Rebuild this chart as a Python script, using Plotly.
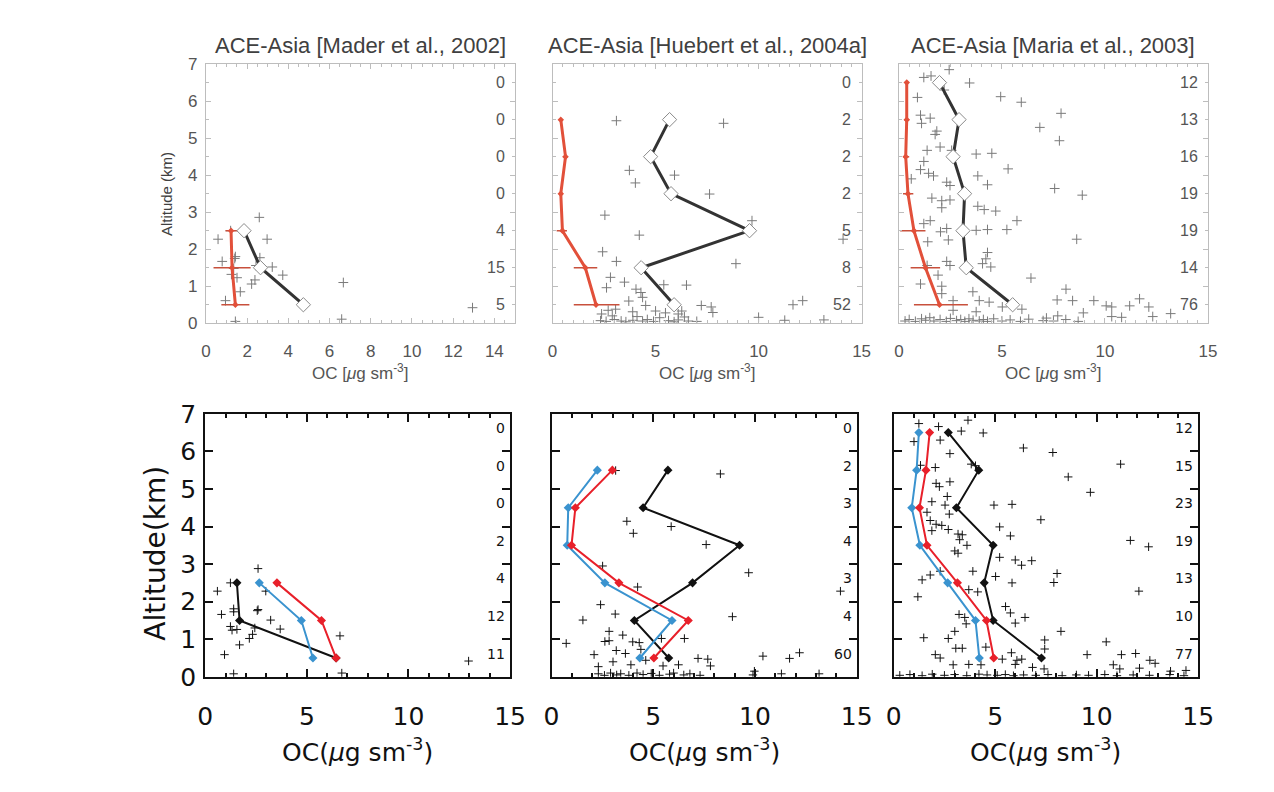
import plotly.graph_objects as go

W, H = 1274, 792

# ---------------- DATA ----------------
alt = [0.5, 1.5, 2.5, 3.5, 4.5, 5.5, 6.5]

titles = ["ACE-Asia [Mader et al., 2002]",
          "ACE-Asia [Huebert et al., 2004a]",
          "ACE-Asia [Maria et al., 2003]"]

# ---- top row (observations vs model with error bars) ----
# Mader
tl_obs_x = [0.59, 0.79, 1.43, 1.24, 1.35, 1.51, 1.67, 0.95, 1.43, 2.59, 2.97, 2.62, 2.43, 3.22,
            3.73, 2.22, 2.38, 6.67, 6.59, 12.94, 1.2, 1.4]
tl_obs_y = [2.27, 1.67, 1.80, 1.32, 1.48, 1.23, 0.85, 0.61, 0.05, 2.86, 2.27, 1.77, 1.56, 1.52,
            1.30, 1.06, 1.17, 1.10, 0.11, 0.42, 2.5, 1.75]
tl_alt = [0.5, 1.5, 2.5]
tl_obs_mean = [4.73, 2.65, 1.85]
tl_mod = [1.43, 1.27, 1.22]
tl_mod_lo = [0.75, 0.37, 0.95]
tl_mod_hi = [2.11, 2.17, 1.59]
tl_counts = ["5", "15", "4", "0", "0", "0", "0"]

# Huebert
tm_obs_x = [3.1, 8.3, 3.73, 4.02, 5.92, 7.62, 2.54, 9.68, 4.21, 14.1, 2.43, 3.1, 8.9, 2.81, 2.62,
            3.49, 4.05, 4.29, 4.37, 5.4, 6.5, 3.06, 3.89, 4.52, 5.0, 5.48, 6.1, 6.27, 7.22, 7.7,
            7.78, 11.67, 12.14, 10.0, 11.27, 13.17, 2.38, 2.7, 2.33, 2.6, 3.0, 3.33, 3.56, 3.9,
            4.37, 4.6, 4.9, 5.63, 5.9, 6.1, 6.59, 7.0, 2.9, 4.1, 5.2, 6.4, 3.7]
tm_obs_y = [5.47, 5.4, 4.13, 3.79, 4.0, 3.49, 2.92, 2.77, 2.38, 2.27, 1.93, 1.67, 1.61, 1.24, 0.96,
            1.11, 0.92, 0.83, 0.7, 1.04, 1.03, 0.38, 0.31, 0.48, 0.33, 0.28, 0.25, 0.33, 0.48, 0.44,
            0.29, 0.5, 0.61, 0.16, 0.08, 0.09, 0.25, 0.35, 0.07, 0.05, 0.1, 0.06, 0.04, 0.08,
            0.06, 0.1, 0.05, 0.07, 0.04, 0.09, 0.06, 0.05, 0.2, 0.18, 0.15, 0.17, 0.6]
tm_alt = [0.5, 1.5, 2.5, 3.5, 4.5, 5.5]
tm_obs_mean = [5.9, 4.3, 9.56, 5.75, 4.76, 5.68]
tm_mod = [2.11, 1.59, 0.48, 0.4, 0.63, 0.4]
tm_mod_lo = [1.03, 1.03, 0.2, 0.3, 0.5, 0.3]
tm_mod_hi = [3.25, 2.17, 0.7, 0.5, 0.75, 0.5]
tm_counts = ["52", "8", "5", "2", "2", "2", "0"]

# Maria
tr_obs_x = [2.44, 1.21, 1.56, 3.43, 4.94, 5.94, 7.87, 6.84, 7.79, 1.05, 1.52, 1.84, 1.76, 1.37,
            2.0, 2.56, 3.75, 4.51, 5.3, 1.21, 1.05, 1.44, 1.68, 2.32, 2.48, 3.83, 4.3, 7.56, 8.9,
            1.6, 2.08, 2.48, 3.83, 4.14, 4.7, 2.08, 1.52, 1.21, 2.32, 2.02, 3.75, 4.3, 5.24, 5.73,
            8.63, 2.4, 4.3, 4.22, 4.06, 4.46, 2.32, 2.48, 1.37, 6.41, 1.05, 2.08, 2.08, 3.59, 8.11,
            2.63, 3.9, 4.38, 2.63, 3.75, 5.02, 5.97, 7.68, 8.43, 9.46, 11.68, 10.06, 10.33, 11.2,
            12.13, 8.95, 10.33, 10.81, 12.32, 13.19, 7.71, 7.16, 0.9, 1.1, 0.6, 1.4, 1.9, 2.2,
            0.3, 0.5, 0.8, 1.1, 1.3, 1.5, 1.7, 2.0, 2.3, 2.5, 2.8, 3.0, 3.2, 3.4, 3.6, 3.9, 4.1,
            4.3, 4.6, 5.0, 5.4, 5.9, 6.3, 7.0, 7.5, 8.1, 8.7]
tr_obs_y = [6.85, 6.64, 6.68, 6.49, 6.12, 5.97, 5.67, 5.29, 4.93, 5.62, 5.54, 5.19, 5.10, 4.67,
            4.76, 4.67, 4.57, 4.59, 4.17, 4.37, 4.15, 4.05, 3.98, 3.81, 3.72, 3.98, 3.74, 3.64, 3.46,
            3.38, 3.31, 3.33, 3.16, 3.07, 3.03, 3.12, 2.77, 2.69, 2.56, 2.47, 2.51, 2.53, 2.53, 2.77,
            2.27, 2.25, 1.91, 1.74, 1.61, 1.52, 1.67, 1.56, 1.56, 1.22, 1.06, 1.0, 0.8, 0.85, 0.92,
            0.61, 0.61, 0.57, 0.35, 0.31, 0.44, 0.38, 0.63, 0.61, 0.61, 0.66, 0.47, 0.44, 0.47,
            0.44, 0.28, 0.18, 0.16, 0.18, 0.26, 0.2, 0.14, 6.1, 5.4, 3.9, 2.2, 1.3, 6.3,
            0.06, 0.1, 0.05, 0.12, 0.08, 0.15, 0.06, 0.1, 0.05, 0.13, 0.07, 0.1, 0.05, 0.12, 0.08,
            0.06, 0.1, 0.05, 0.12, 0.06, 0.09, 0.05, 0.11, 0.07, 0.06, 0.1, 0.05]
tr_alt = alt
tr_obs_mean = [5.52, 3.27, 3.11, 3.19, 2.63, 2.92, 1.97]
tr_mod = [1.97, 1.29, 0.73, 0.44, 0.33, 0.38, 0.38]
tr_mod_lo = [0.73, 0.57, 0.06, 0.2, 0.2, 0.25, 0.3]
tr_mod_hi = [3.35, 2.0, 1.29, 0.7, 0.5, 0.5, 0.45]
tr_counts = ["76", "14", "19", "19", "16", "13", "12"]

# ---- bottom row (observations vs two model versions) ----
bl_obs_x = [1.24, 0.6, 0.8, 1.4, 1.4, 2.56, 2.6, 2.98, 2.6, 3.22, 3.69, 1.24, 1.32, 1.56, 2.17,
            2.33, 2.44, 1.69, 0.95, 1.4, 6.63, 6.72, 12.96]
bl_obs_y = [2.5, 2.28, 1.66, 1.81, 1.73, 1.76, 1.79, 2.28, 2.88, 1.51, 1.27, 1.34, 1.24, 1.26,
            1.02, 1.13, 1.3, 0.85, 0.59, 0.08, 1.09, 0.1, 0.42]
bl_alt = [0.5, 1.5, 2.5]
bl_obs_mean = [6.44, 1.69, 1.56]
bl_mod_red = [6.44, 5.72, 3.53]
bl_mod_blue = [5.3, 4.73, 2.66]
bl_counts = ["11", "12", "4", "2", "0", "0", "0"]

bm_obs_x = [3.15, 8.3, 3.7, 4.02, 5.88, 7.6, 2.51, 9.69, 4.23, 14.2, 2.41, 3.13, 1.54, 8.89, 0.72,
            2.83, 3.5, 2.62, 2.83, 3.99, 4.31, 5.4, 6.53, 3.18, 3.63, 4.39, 2.09, 3.02, 3.9, 4.63,
            5.48, 6.24, 7.2, 7.68, 7.81, 10.39, 11.7, 12.19, 2.3, 9.97, 11.3, 13.15,
            2.3, 2.6, 2.9, 3.2, 3.4, 3.8, 4.2, 4.5, 4.9, 5.3, 5.8, 6.0, 6.5, 6.8, 7.3, 9.9]
bm_obs_y = [5.49, 5.4, 4.14, 3.82, 4.0, 3.52, 2.95, 2.77, 2.39, 2.28, 1.92, 1.67, 1.51, 1.6, 0.89,
            1.21, 1.11, 0.94, 0.96, 0.93, 0.91, 1.02, 1.02, 0.7, 0.62, 0.73, 0.59, 0.4, 0.32, 0.44,
            0.29, 0.32, 0.49, 0.47, 0.29, 0.55, 0.49, 0.64, 0.27, 0.15, 0.08, 0.08,
            0.08, 0.04, 0.1, 0.05, 0.08, 0.04, 0.1, 0.06, 0.09, 0.04, 0.07, 0.1, 0.05, 0.08, 0.04, 0.05]
bm_alt = [0.5, 1.5, 2.5, 3.5, 4.5, 5.5]
bm_obs_mean = [5.76, 4.07, 6.93, 9.24, 4.5, 5.72]
bm_mod_red = [5.03, 6.72, 3.31, 0.98, 1.17, 2.99]
bm_mod_blue = [4.34, 5.92, 2.62, 0.77, 0.82, 2.25]
bm_counts = ["60", "4", "3", "4", "3", "2", "0"]

br_obs_x = [3.66, 1.24, 2.21, 3.33, 4.41, 2.29, 1.0, 6.39, 7.84, 2.77, 1.32, 2.05, 3.82, 4.03,
            11.18, 8.6, 2.09, 2.25, 2.77, 9.69, 2.64, 1.88, 2.53, 2.74, 1.64, 4.94, 5.83, 1.8, 7.25,
            2.09, 2.37, 2.69, 1.88, 3.17, 3.38, 3.25, 5.22, 5.75, 3.61, 11.66, 12.56, 3.01, 3.17,
            5.22, 5.99, 6.3, 6.8, 2.29, 1.8, 1.4, 3.9, 5.02, 8.05, 7.89, 5.83, 3.7, 12.08, 1.19,
            4.14, 5.51, 5.75, 3.22, 3.5, 3.57, 5.99, 6.47, 8.24, 3.01, 2.69, 1.48, 10.47, 7.44,
            3.06, 3.38, 4.54, 5.8, 7.44, 2.05, 2.29, 5.35, 6.31, 9.53, 11.22, 11.92, 12.62, 12.88,
            2.93, 3.7, 4.3, 5.99, 6.84, 7.41, 10.82, 11.14, 12.11, 13.64, 14.4, 6.07,
            0.3, 0.8, 1.4, 1.9, 2.5, 3.0, 3.6, 4.2, 4.6, 5.1, 5.5, 5.9, 6.4, 7.0, 7.6, 8.3,
            9.0, 9.6, 10.4, 11.0, 11.8, 12.6, 13.6, 14.3]
br_obs_y = [6.83, 6.74, 6.66, 6.54, 6.49, 6.3, 6.26, 6.09, 5.97, 5.94, 5.63, 5.57, 5.66, 5.62,
            5.66, 5.32, 5.15, 5.06, 5.19, 4.91, 4.8, 4.66, 4.57, 4.33, 4.38, 4.57, 4.59, 4.16, 4.18,
            4.06, 4.03, 3.92, 3.89, 3.8, 3.78, 3.65, 3.99, 3.75, 3.5, 3.63, 3.46, 3.35, 3.29,
            3.18, 3.11, 2.97, 3.09, 2.81, 2.71, 2.58, 2.81, 2.67, 2.75, 2.51, 2.5, 2.32, 2.28, 2.13,
            2.26, 1.87, 1.7, 1.66, 1.58, 1.41, 1.43, 1.58, 1.21, 1.21, 1.02, 1.04, 0.93, 0.98,
            0.76, 0.76, 0.79, 0.64, 0.74, 0.59, 0.5, 0.47, 0.47, 0.59, 0.59, 0.62, 0.44, 0.36,
            0.32, 0.33, 0.32, 0.33, 0.25, 0.21, 0.32, 0.21, 0.23, 0.15, 0.17, 0.44,
            0.04, 0.06, 0.03, 0.07, 0.04, 0.06, 0.03, 0.07, 0.05, 0.04, 0.06, 0.03, 0.05, 0.04, 0.06,
            0.03, 0.05, 0.04, 0.06, 0.03, 0.05, 0.04, 0.06, 0.03]
br_alt = alt
br_obs_mean = [7.28, 4.9, 4.46, 4.9, 3.09, 4.19, 2.69]
br_mod_red = [4.93, 4.57, 3.14, 1.64, 1.27, 1.59, 1.77]
br_mod_blue = [4.22, 4.03, 2.66, 1.29, 0.89, 1.13, 1.24]
br_counts = ["77", "10", "13", "19", "23", "15", "12"]

top_xticks = [[0, 2, 4, 6, 8, 10, 12, 14], [0, 5, 10, 15], [0, 5, 10, 15]]
bottom_xticks = [0, 5, 10, 15]
yticks = [0, 1, 2, 3, 4, 5, 6, 7]

# ---------------- LAYOUT (pixel boxes) ----------------
top_boxes = [(201.7, 516.7), (555, 870), (908, 1223)]
top_y = (52, 321)
bot_boxes = [(201, 511.7), (554, 865), (902.7, 1213)]
bot_y = (415, 688)

GRAY_TXT = "#555555"
TOP_RED = "#e2503a"
BOT_RED = "#e8202a"
BOT_BLUE = "#3a93cf"

fig = go.Figure()

top_sets = [
    (tl_obs_x, tl_obs_y, tl_alt, tl_obs_mean, tl_mod, tl_mod_lo, tl_mod_hi, tl_counts),
    (tm_obs_x, tm_obs_y, tm_alt, tm_obs_mean, tm_mod, tm_mod_lo, tm_mod_hi, tm_counts),
    (tr_obs_x, tr_obs_y, tr_alt, tr_obs_mean, tr_mod, tr_mod_lo, tr_mod_hi, tr_counts),
]
bot_sets = [
    (bl_obs_x, bl_obs_y, bl_alt, bl_obs_mean, bl_mod_red, bl_mod_blue, bl_counts),
    (bm_obs_x, bm_obs_y, bm_alt, bm_obs_mean, bm_mod_red, bm_mod_blue, bm_counts),
    (br_obs_x, br_obs_y, br_alt, br_obs_mean, br_mod_red, br_mod_blue, br_counts),
]

annotations = []


def axname(i):
    return "" if i == 1 else str(i)


for k, (ox, oy, a, om, md, lo, hi, cnt) in enumerate(top_sets):
    i = k + 1
    xa, ya = "x" + axname(i), "y" + axname(i)
    fig.add_trace(go.Scatter(x=ox, y=oy, mode="markers", xaxis=xa, yaxis=ya,
                             marker=dict(symbol="cross-thin", size=7,
                                         line=dict(color="#7a7a7a", width=1)),
                             showlegend=False, hoverinfo="skip"))
    fig.add_trace(go.Scatter(x=md, y=a, mode="lines+markers", xaxis=xa, yaxis=ya,
                             line=dict(color=TOP_RED, width=3),
                             marker=dict(symbol="diamond", size=5, color=TOP_RED),
                             error_x=dict(type="data", symmetric=False,
                                          array=[h - m for h, m in zip(hi, md)],
                                          arrayminus=[m - l for m, l in zip(md, lo)],
                                          color="#c8503c", thickness=1.5, width=0),
                             showlegend=False, hoverinfo="skip"))
    fig.add_trace(go.Scatter(x=om, y=a, mode="lines+markers", xaxis=xa, yaxis=ya,
                             line=dict(color="#333333", width=3),
                             marker=dict(symbol="diamond", size=11, color="white",
                                         line=dict(color="#8a8a8a", width=1)),
                             showlegend=False, hoverinfo="skip"))
    for c, yv in zip(cnt, alt):
        annotations.append(dict(x=14.6, y=yv, xref=xa, yref=ya, text=c, showarrow=False,
                                xanchor="right", yanchor="middle",
                                font=dict(family="Liberation Sans", size=16, color=GRAY_TXT)))
    x0, x1 = top_boxes[k]
    dom_x = [x0 / W, x1 / W]
    dom_y = [1 - top_y[1] / H, 1 - top_y[0] / H]
    axis_common = dict(showline=True, linecolor="#bdbdbd", linewidth=1, mirror="allticks",
                       ticks="inside", tickcolor="#bdbdbd", showgrid=False, zeroline=False,
                       tickfont=dict(family="Liberation Sans", size=17, color=GRAY_TXT))
    fig.layout["xaxis" + axname(i)] = dict(domain=dom_x, range=[0, 15], anchor=ya,
                                           tickvals=top_xticks[k], ticklen=5,
                                           ticklabelstandoff=12,
                                           minor=dict(dtick=0.5, ticks="inside", ticklen=3,
                                                      tickcolor="#bdbdbd"),
                                           **axis_common)
    fig.layout["yaxis" + axname(i)] = dict(domain=dom_y, range=[0, 7], anchor=xa,
                                           tickvals=yticks, ticklen=5,
                                           showticklabels=(k == 0), ticklabelstandoff=4,
                                           minor=dict(dtick=0.5, ticks="inside", ticklen=3,
                                                      tickcolor="#bdbdbd"),
                                           **axis_common)
    annotations.append(dict(x=(x0 + x1) / 2 / W, y=1 - 33 / H, xref="paper", yref="paper",
                            text=titles[k], showarrow=False, xanchor="center", yanchor="middle",
                            font=dict(family="Liberation Sans", size=22, color="#404040")))
    annotations.append(dict(x=(x0 + x1) / 2 / W, y=1 - 372 / H, xref="paper", yref="paper",
                            text="OC [<i>μ</i>g sm<sup>-3</sup>]", showarrow=False,
                            xanchor="center", yanchor="middle",
                            font=dict(family="Liberation Sans", size=17, color=GRAY_TXT)))

annotations.append(dict(x=161 / W, y=1 - 187 / H, xref="paper", yref="paper",
                        text="Altitude (km)", textangle=-90, showarrow=False,
                        xanchor="center", yanchor="middle",
                        font=dict(family="Liberation Sans", size=15, color="#404040")))

BFONT = "DejaVu Sans"
for k, (ox, oy, a, om, mr, mb, cnt) in enumerate(bot_sets):
    i = k + 4
    xa, ya = "x" + axname(i), "y" + axname(i)
    fig.add_trace(go.Scatter(x=ox, y=oy, mode="markers", xaxis=xa, yaxis=ya,
                             marker=dict(symbol="cross-thin", size=6,
                                         line=dict(color="#111111", width=1)),
                             showlegend=False, hoverinfo="skip"))
    fig.add_trace(go.Scatter(x=om, y=a, mode="lines+markers", xaxis=xa, yaxis=ya,
                             line=dict(color="#111111", width=2),
                             marker=dict(symbol="diamond", size=7, color="#111111"),
                             showlegend=False, hoverinfo="skip"))
    fig.add_trace(go.Scatter(x=mb, y=a, mode="lines+markers", xaxis=xa, yaxis=ya,
                             line=dict(color=BOT_BLUE, width=2),
                             marker=dict(symbol="diamond", size=7, color=BOT_BLUE),
                             showlegend=False, hoverinfo="skip"))
    fig.add_trace(go.Scatter(x=mr, y=a, mode="lines+markers", xaxis=xa, yaxis=ya,
                             line=dict(color=BOT_RED, width=2),
                             marker=dict(symbol="diamond", size=7, color=BOT_RED),
                             showlegend=False, hoverinfo="skip"))
    for c, yv in zip(cnt, alt):
        annotations.append(dict(x=14.85, y=yv + 0.12, xref=xa, yref=ya, text=c, showarrow=False,
                                xanchor="right", yanchor="middle",
                                font=dict(family=BFONT, size=14, color="#111111")))
    x0, x1 = bot_boxes[k]
    dom_x = [x0 / W, x1 / W]
    dom_y = [1 - bot_y[1] / H, 1 - bot_y[0] / H]
    axis_common = dict(showline=True, linecolor="#111111", linewidth=2, mirror="allticks",
                       ticks="inside", tickcolor="#111111", tickwidth=1.5, showgrid=False,
                       zeroline=False,
                       tickfont=dict(family=BFONT, size=25, color="#111111"))
    fig.layout["xaxis" + axname(i)] = dict(domain=dom_x, range=[0, 15], anchor=ya,
                                           tickvals=bottom_xticks, ticklen=8,
                                           ticklabelstandoff=16,
                                           minor=dict(dtick=1, ticks="inside", ticklen=4,
                                                      tickcolor="#111111"),
                                           **axis_common)
    fig.layout["yaxis" + axname(i)] = dict(domain=dom_y, range=[0, 7], anchor=xa,
                                           tickvals=yticks, ticklen=8,
                                           showticklabels=(k == 0), ticklabelstandoff=2,
                                           **axis_common)
    annotations.append(dict(x=(x0 + x1) / 2 / W, y=1 - 765 / H, xref="paper", yref="paper",
                            text="OC(<i>μ</i>g sm<sup>-3</sup>)", showarrow=False,
                            xanchor="center", yanchor="middle",
                            font=dict(family=BFONT, size=25, color="#111111")))

annotations.append(dict(x=150 / W, y=1 - 560 / H, xref="paper", yref="paper",
                        text="Altitude(km)", textangle=-90, showarrow=False,
                        xanchor="center", yanchor="middle",
                        font=dict(family=BFONT, size=28, color="#111111")))

fig.update_layout(width=W, height=H, margin=dict(l=0, r=0, t=0, b=0),
                  paper_bgcolor="white", plot_bgcolor="white",
                  annotations=annotations, showlegend=False)

fig.write_html("out.html", config={"displayModeBar": False})
